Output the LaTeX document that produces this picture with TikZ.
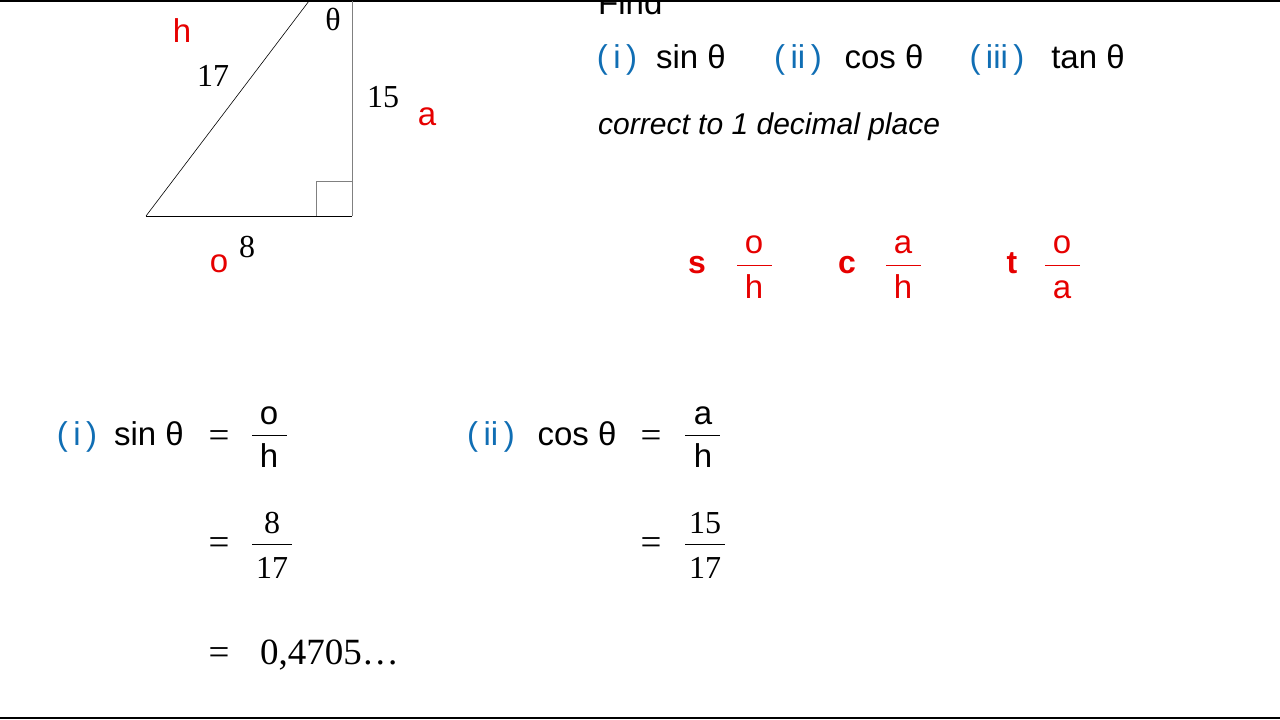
\documentclass[tikz,border=0pt]{standalone}
\usepackage{fontspec}
\setmainfont{Liberation Sans}
\newfontfamily\tms{Liberation Serif}
\begin{document}
\begin{tikzpicture}[x=1pt,y=-1pt,
 every node/.style={inner sep=0pt,anchor=base},
 sf/.style={font=\fontsize{33}{33}\selectfont},
 tm/.style={font=\tms\fontsize{32}{32}\selectfont},
 eq/.style={font=\tms\fontsize{37}{37}\selectfont},
 rd/.style={text={rgb,255:red,230;green,0;blue,0}},
 bl/.style={text={rgb,255:red,16;green,110;blue,180}}]
\useasboundingbox (0,0) rectangle (1280,720);
\draw[line width=1.2pt] (0,1) -- (1280,1);
\draw[line width=1.2pt] (0,718) -- (1280,718);
% triangle
\coordinate (A) at (146,216); \coordinate (B) at (352,216); \coordinate (C) at (352,1); \coordinate (D) at (309,1);
\draw[line width=0.8pt] (A) -- (B);
\draw[gray,line width=1pt] (B) -- (C);
\draw[line width=0.6pt] (A) -- (D);
\draw[gray,line width=0.8pt] (316,216) -- (316,181) -- (352,181);
\node[tm] (th) at (333,30) {θ};
\node[sf,rd] (h) at (182,42) {h};
\node[tm] (n17) at (213,86) {17};
\node[tm] (n15) at (383,107) {15};
\node[sf,rd] (a) at (427,125) {a};
\node[sf,rd] (o) at (219,272) {o};
\node[tm] (n8) at (247,257) {8};
% right text
\node[sf,anchor=base west] (find) at (598,14) {Find};
\node[sf,bl] (i) at (617,68) {(\,i\,)};
\node[sf] (s1) at (691,68) {sin θ};
\node[sf,bl] (ii) at (798,68) {(\,ii\,)};
\node[sf] (c1) at (884,68) {cos θ};
\node[sf,bl] (iii) at (997,68) {(\,iii\,)};
\node[sf] (t1) at (1088,68) {tan θ};
\node[font=\itshape\fontsize{30}{30}\selectfont,anchor=base west] (corr) at (598,134) {correct to 1 decimal place};
% s c t
\node[rd,font=\bfseries\fontsize{32}{32}\selectfont] (s) at (697,273) {s};
\node[sf,rd] (so) at (754,253) {o}; \node[sf,rd] (sh) at (754,298) {h};
\draw[red!90!black,line width=0.6pt] (737,265) -- (772,265);
\node[rd,font=\bfseries\fontsize{32}{32}\selectfont] (c) at (847,273) {c};
\node[sf,rd] (ca) at (903,253) {a}; \node[sf,rd] (ch) at (903,298) {h};
\draw[red!90!black,line width=0.6pt] (886,265) -- (921,265);
\node[rd,font=\bfseries\fontsize{32}{32}\selectfont] (t) at (1012,273) {t};
\node[sf,rd] (to) at (1062,253) {o}; \node[sf,rd] (ta) at (1062,298) {a};
\draw[red!90!black,line width=0.6pt] (1045,265) -- (1080,265);
% working (i)
\node[sf,bl] (wi) at (77,445) {(\,i\,)};
\node[sf] (ws) at (149,445) {sin θ};
\node[eq] (e1) at (219,447) {=};
\node[sf] (wo) at (269,424) {o}; \node[sf] (wh) at (269,467) {h};
\draw[line width=0.6pt] (252,435) -- (287,435);
\node[eq] (e2) at (219,554) {=};
\node[tm] (w8) at (272,533) {8}; \node[tm] (w17) at (272,578) {17};
\draw[line width=0.6pt] (252,544) -- (292,544);
\node[eq] (e3) at (219,664) {=};
\node[eq,anchor=base west] (val) at (260,664) {0,4705…};
% working (ii)
\node[sf,bl] (wii) at (491,445) {(\,ii\,)};
\node[sf] (wc) at (577,445) {cos θ};
\node[eq] (e4) at (651,447) {=};
\node[sf] (wa) at (703,424) {a}; \node[sf] (wh2) at (703,467) {h};
\draw[line width=0.6pt] (685,435) -- (720,435);
\node[eq] (e5) at (651,554) {=};
\node[tm] (w15) at (705,533) {15}; \node[tm] (w172) at (705,578) {17};
\draw[line width=0.6pt] (685,544) -- (725,544);
\end{tikzpicture}
\end{document}
